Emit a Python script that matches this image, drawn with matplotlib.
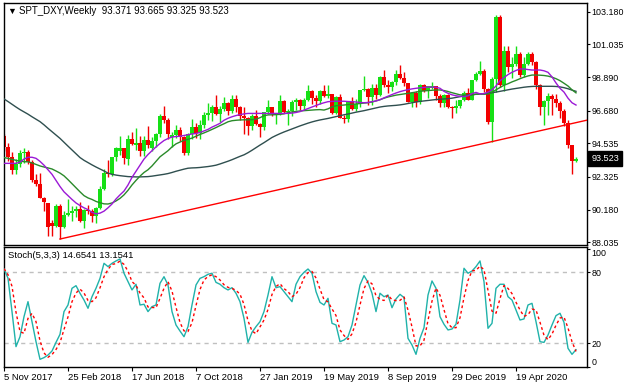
import matplotlib
matplotlib.use("Agg")
import matplotlib.pyplot as plt
import numpy as np

plt.rcParams['font.family'] = ['Liberation Sans', 'DejaVu Sans']

W, H = 625, 386

# weekly candles, 5 Nov 2017 .. 2 Aug 2020 (bar index 0..143)
opens = [95.00, 94.30, 93.65, 92.78, 93.15, 93.90, 93.95, 93.34, 92.15, 91.89,
         90.97, 90.60, 89.30, 89.10, 90.39, 89.07, 89.86, 89.94, 90.10, 90.24,
         89.44, 90.13, 90.11, 89.79, 90.32, 91.54, 92.60, 92.53, 93.63, 94.05,
         94.20, 93.50, 94.85, 94.45, 94.55, 94.02, 94.75, 94.25, 94.66, 95.16,
         96.30, 96.10, 94.95, 95.10, 95.39, 94.92, 93.90, 95.13, 95.61, 95.22,
         95.74, 96.42, 96.53, 96.91, 96.46, 96.80, 97.21, 96.66, 97.45, 96.95,
         96.30, 96.19, 95.67, 96.36, 95.82, 95.58, 96.59, 96.90, 96.49, 96.51,
         97.31, 96.61, 96.64, 97.28, 97.39, 96.98, 97.40, 98.00, 97.49, 97.33,
         98.00, 97.62, 97.75, 96.54, 97.57, 96.23, 96.13, 97.29, 96.82, 97.15,
         98.03, 98.08, 97.55, 98.16, 97.68, 98.92, 98.39, 98.25, 98.59, 99.11,
         98.80, 98.50, 97.26, 97.83, 97.24, 98.36, 98.00, 98.20, 98.30, 97.67,
         97.18, 97.68, 96.91, 96.84, 96.98, 97.35, 97.86, 97.39, 98.68, 99.11,
         99.26, 98.13, 95.95, 98.74, 102.82, 98.36, 100.58, 99.52, 99.76, 100.37,
         99.04, 99.75, 100.37, 99.86, 98.34, 96.93, 97.32, 97.62, 97.43, 97.17,
         96.64, 95.90, 94.44, 93.371]
highs = [95.15, 94.55, 93.95, 93.50, 94.10, 94.25, 94.10, 93.45, 92.50, 92.60,
         91.00, 90.60, 89.50, 90.55, 90.55, 90.10, 90.90, 90.45, 90.40, 90.70,
         90.20, 90.50, 90.20, 90.35, 91.75, 92.85, 93.42, 93.65, 94.30, 94.99,
         94.25, 95.05, 95.25, 95.55, 95.00, 95.00, 95.65, 94.95, 95.20, 96.46,
         96.98, 96.20, 95.25, 95.75, 95.60, 95.00, 95.20, 96.15, 95.85, 96.05,
         96.60, 97.20, 97.05, 97.70, 97.00, 97.55, 97.25, 97.70, 97.72, 97.00,
         96.95, 96.25, 96.45, 96.70, 95.85, 96.60, 97.35, 96.95, 96.55, 97.70,
         97.40, 96.80, 97.40, 97.50, 97.45, 97.50, 98.35, 98.05, 97.70, 98.05,
         98.35, 98.35, 97.80, 97.65, 97.75, 96.40, 97.30, 97.60, 97.45, 98.05,
         98.95, 98.15, 98.45, 98.45, 98.95, 99.35, 98.70, 98.65, 99.35, 99.67,
         99.20, 98.50, 97.85, 98.00, 98.40, 98.45, 98.30, 98.55, 98.30, 97.75,
         97.75, 97.75, 97.00, 97.35, 97.40, 97.95, 98.20, 98.70, 99.20, 99.95,
         99.40, 98.20, 98.90, 102.99, 102.95, 100.93, 100.95, 100.20, 100.93, 100.55,
         100.20, 100.55, 100.56, 99.96, 98.40, 97.40, 97.85, 97.75, 97.80, 97.30,
         96.80, 96.10, 94.45, 93.665]
lows = [94.05, 93.40, 92.50, 92.50, 92.95, 93.25, 93.20, 92.00, 91.75, 90.95,
        90.10, 88.44, 88.45, 89.05, 88.25, 88.95, 89.75, 89.45, 89.70, 89.40,
        88.95, 89.90, 89.40, 89.30, 90.25, 91.45, 92.35, 92.40, 93.40, 93.80,
        93.20, 93.10, 94.40, 94.10, 93.70, 93.70, 94.20, 94.05, 94.30, 94.95,
        95.90, 94.80, 94.30, 94.90, 94.70, 93.80, 93.80, 94.80, 94.90, 94.80,
        95.55, 96.10, 96.00, 96.40, 95.95, 96.65, 96.40, 96.55, 96.60, 96.05,
        95.15, 95.05, 95.40, 95.75, 94.95, 95.40, 96.45, 96.30, 95.80, 96.40,
        96.50, 95.75, 96.35, 96.75, 96.75, 96.75, 97.30, 97.10, 96.95, 97.10,
        97.60, 97.50, 96.45, 96.45, 96.20, 95.85, 95.95, 96.70, 96.65, 96.95,
        97.95, 97.05, 97.05, 97.45, 97.65, 98.25, 97.85, 97.95, 98.35, 98.75,
        98.30, 97.25, 96.95, 96.95, 97.15, 97.90, 97.50, 98.10, 97.40, 96.90,
        96.95, 96.85, 96.20, 96.50, 96.85, 97.30, 97.35, 97.35, 98.60, 99.05,
        97.90, 95.80, 94.65, 97.90, 98.25, 98.00, 99.25, 98.85, 99.60, 98.90,
        98.90, 99.70, 99.65, 98.08, 96.40, 95.71, 96.40, 96.40, 96.95, 96.23,
        95.70, 94.20, 92.52, 93.325]
closes = [94.30, 93.65, 92.78, 93.15, 93.90, 93.95, 93.34, 92.15, 91.89, 90.97,
          90.65, 89.05, 89.10, 90.39, 89.07, 89.86, 89.94, 90.10, 90.24, 89.44,
          90.13, 90.11, 89.79, 90.32, 91.54, 92.56, 92.53, 93.63, 94.25, 94.20,
          93.56, 94.79, 94.52, 94.55, 94.02, 94.75, 94.40, 94.66, 95.16, 96.30,
          96.10, 95.15, 95.10, 95.39, 94.92, 93.90, 95.13, 95.61, 95.22, 95.74,
          96.42, 96.53, 96.91, 96.46, 96.80, 97.21, 96.66, 97.45, 96.95, 96.30,
          96.19, 95.67, 96.36, 95.82, 95.58, 96.59, 96.90, 96.49, 96.51, 97.31,
          96.61, 96.64, 97.28, 97.39, 96.98, 97.40, 98.00, 97.49, 97.33, 98.00,
          97.62, 97.75, 96.54, 97.57, 96.23, 96.13, 97.29, 96.82, 97.15, 98.03,
          98.08, 97.55, 98.16, 97.68, 98.92, 98.39, 98.25, 98.59, 99.11, 98.80,
          98.50, 97.26, 97.83, 97.24, 98.36, 98.00, 98.27, 98.30, 97.67, 97.18,
          97.68, 96.91, 96.84, 96.98, 97.35, 97.86, 97.39, 98.68, 99.11, 99.26,
          98.13, 95.95, 98.74, 102.82, 98.36, 100.58, 99.52, 99.76, 100.37, 99.04,
          99.75, 100.37, 99.86, 98.34, 96.93, 97.32, 97.62, 97.43, 97.17, 96.64,
          95.90, 94.44, 93.35, 93.523]

# moving averages as they appear on the chart
ma_slow = [97.45, 97.28, 97.10, 96.92, 96.75, 96.60, 96.45, 96.28, 96.12, 95.96,
           95.75, 95.52, 95.30, 95.08, 94.86, 94.60, 94.35, 94.10, 93.85, 93.60,
           93.42, 93.27, 93.12, 92.98, 92.85, 92.72, 92.58, 92.50, 92.45, 92.41,
           92.38, 92.35, 92.34, 92.33, 92.33, 92.34, 92.35, 92.38, 92.42, 92.46,
           92.50, 92.55, 92.62, 92.70, 92.77, 92.84, 92.90, 92.92, 92.93, 92.95,
           92.98, 93.01, 93.05, 93.10, 93.18, 93.27, 93.36, 93.46, 93.57, 93.68,
           93.78, 93.92, 94.08, 94.25, 94.42, 94.58, 94.75, 94.92, 95.05, 95.17,
           95.28, 95.38, 95.48, 95.58, 95.68, 95.77, 95.86, 95.94, 96.01, 96.07,
           96.12, 96.17, 96.23, 96.29, 96.35, 96.41, 96.46, 96.52, 96.58, 96.63,
           96.68, 96.74, 96.80, 96.86, 96.92, 96.96, 96.99, 97.01, 97.03, 97.06,
           97.10, 97.15, 97.20, 97.25, 97.29, 97.32, 97.35, 97.38, 97.41, 97.43,
           97.45, 97.47, 97.50, 97.55, 97.60, 97.66, 97.71, 97.74, 97.76, 97.78,
           97.80, 97.82, 97.86, 97.90, 97.95, 98.00, 98.05, 98.10, 98.14, 98.18,
           98.22, 98.25, 98.27, 98.28, 98.28, 98.28, 98.28, 98.28, 98.27, 98.24,
           98.19, 98.12, 98.03, 97.95]
ma_mid = [93.60, 93.55, 93.48, 93.42, 93.36, 93.33, 93.32, 93.25, 93.15, 93.05,
          92.98, 92.92, 92.85, 92.72, 92.58, 92.40, 92.15, 91.88, 91.60, 91.35,
          91.10, 90.95, 90.85, 90.72, 90.63, 90.56, 90.55, 90.62, 90.75, 90.92,
          91.15, 91.45, 91.80, 92.10, 92.38, 92.62, 92.80, 93.05, 93.35, 93.65,
          93.85, 94.05, 94.30, 94.50, 94.62, 94.73, 94.80, 94.88, 95.00, 95.12,
          95.22, 95.33, 95.45, 95.57, 95.70, 95.82, 95.95, 96.02, 96.05, 96.07,
          96.08, 96.08, 96.09, 96.12, 96.22, 96.35, 96.40, 96.41, 96.42, 96.44,
          96.47, 96.55, 96.60, 96.63, 96.66, 96.68, 96.70, 96.72, 96.74, 96.75,
          96.72, 96.80, 96.93, 97.00, 97.03, 97.05, 97.08, 97.10, 97.12, 97.15,
          97.18, 97.20, 97.25, 97.32, 97.40, 97.50, 97.58, 97.64, 97.70, 97.74,
          97.78, 97.82, 97.86, 97.90, 97.95, 97.98, 98.00, 98.02, 98.04, 98.04,
          98.00, 97.94, 97.86, 97.79, 97.72, 97.70, 97.68, 97.70, 97.76, 97.77,
          97.76, 97.78, 97.88, 98.05, 98.20, 98.35, 98.45, 98.57, 98.67, 98.78,
          98.88, 98.96, 99.02, 99.02, 99.01, 98.99, 98.95, 98.88, 98.78, 98.65,
          98.48, 98.30, 98.05, 97.85]
ma_fast = [93.22, 93.22, 93.22, 93.22, 93.30, 93.50, 93.62, 93.62, 93.55, 93.35,
           93.10, 92.80, 92.50, 92.10, 91.70, 91.35, 91.10, 90.85, 90.62, 90.45,
           90.30, 90.18, 90.00, 89.90, 89.95, 90.08, 90.30, 90.55, 90.88, 91.15,
           91.40, 91.80, 92.30, 92.70, 93.10, 93.50, 93.80, 94.05, 94.30, 94.52,
           94.72, 94.85, 94.95, 94.98, 95.00, 95.05, 95.10, 95.15, 95.18, 95.25,
           95.35, 95.45, 95.60, 95.72, 95.85, 96.05, 96.18, 96.28, 96.36, 96.42,
           96.47, 96.50, 96.50, 96.50, 96.50, 96.50, 96.50, 96.50, 96.50, 96.50,
           96.50, 96.50, 96.52, 96.56, 96.62, 96.72, 96.82, 96.92, 97.02, 97.12,
           97.20, 97.27, 97.29, 97.30, 97.30, 97.30, 97.28, 97.27, 97.25, 97.22,
           97.20, 97.22, 97.27, 97.32, 97.40, 97.52, 97.63, 97.74, 97.84, 97.93,
           98.00, 98.06, 98.11, 98.15, 98.18, 98.21, 98.23, 98.23, 98.22, 98.15,
           97.95, 97.82, 97.72, 97.66, 97.62, 97.60, 97.65, 97.80, 97.88, 97.78,
           97.80, 97.90, 98.05, 98.30, 98.65, 98.85, 99.05, 99.20, 99.32, 99.42,
           99.42, 99.38, 99.35, 99.35, 99.35, 99.30, 99.20, 98.90, 98.50, 98.15,
           97.90, 97.50, 97.20, 97.05]

# Stoch(5,3,3): main (%K) and signal (%D)
stoch_k = [82.8, 75.0, 46.8, 17.2, 25.6, 42.5, 55.2, 38.3, 21.4, 6.5,
           7.9, 10.1, 13.5, 20.8, 27.6, 46.8, 52.4, 66.5, 68.7, 62.3,
           56.6, 49.6, 59.4, 66.5, 74.9, 87.6, 84.8, 87.6, 89.6, 91.3,
           79.2, 72.1, 65.1, 69.9, 52.4, 53.0, 46.8, 51.0, 52.4, 70.7,
           76.3, 69.3, 46.8, 35.5, 30.4, 25.6, 34.1, 52.4, 69.3, 74.9,
           76.3, 78.3, 79.2, 71.5, 69.9, 67.0, 65.1, 67.0, 62.3, 55.2,
           41.1, 20.8, 29.3, 34.1, 38.3, 46.8, 60.8, 76.3, 67.0, 67.9,
           63.7, 59.4, 55.2, 69.9, 76.3, 80.0, 82.8, 79.2, 63.7, 54.6,
           52.4, 58.0, 36.9, 35.5, 21.4, 22.8, 25.6, 35.5, 52.4, 69.3,
           77.2, 71.5, 62.3, 46.8, 62.3, 59.4, 60.8, 50.1, 57.5, 61.4,
           58.6, 24.2, 18.6, 10.7, 24.2, 33.2, 60.8, 72.7, 66.5, 42.5,
           36.1, 31.3, 32.1, 36.1, 56.6, 83.4, 79.2, 81.1, 84.8, 89.6,
           72.1, 32.7, 36.9, 66.5, 69.9, 69.9, 59.4, 56.6, 48.2, 39.7,
           40.6, 52.4, 53.8, 38.3, 21.4, 20.8, 27.0, 35.5, 43.4, 45.4,
           37.7, 15.8, 10.7, 14.65]
stoch_d = [83.0, 78.0, 68.2, 46.3, 29.9, 28.4, 41.1, 45.3, 38.3, 22.1,
           11.9, 8.2, 10.5, 14.8, 20.6, 31.7, 42.3, 55.2, 62.5, 65.8,
           62.5, 56.2, 55.2, 58.5, 66.9, 76.3, 82.4, 86.7, 87.3, 89.5,
           86.7, 80.9, 72.1, 69.0, 62.5, 58.4, 50.7, 50.3, 50.1, 58.0,
           66.5, 72.1, 64.1, 50.5, 37.6, 30.5, 30.0, 37.4, 51.9, 65.5,
           73.5, 76.5, 77.9, 76.3, 73.5, 69.5, 67.3, 66.4, 64.8, 61.5,
           52.9, 39.0, 30.4, 28.1, 33.9, 39.7, 48.6, 61.3, 68.0, 70.4,
           66.2, 63.7, 59.4, 61.5, 67.1, 75.4, 79.7, 80.7, 75.2, 65.8,
           56.9, 55.0, 49.1, 43.5, 31.3, 26.6, 23.3, 28.0, 37.8, 52.4,
           66.3, 72.7, 70.3, 60.2, 57.1, 56.2, 60.8, 56.8, 56.1, 56.3,
           59.2, 48.1, 33.8, 17.8, 17.8, 22.7, 39.4, 55.6, 66.7, 60.6,
           48.4, 36.6, 33.2, 33.2, 41.6, 58.7, 73.1, 81.2, 81.7, 85.2,
           82.2, 64.8, 47.2, 45.4, 57.8, 68.8, 66.4, 62.0, 54.7, 48.2,
           42.8, 44.2, 48.9, 48.2, 37.8, 26.8, 23.1, 27.8, 35.3, 41.4,
           42.2, 33.0, 21.4, 13.15]

price_ticks = [103.180, 101.035, 98.890, 96.680, 94.535, 92.325, 90.180, 88.035]
stoch_ticks = [100, 80, 20, 0]
date_pos = [0, 16, 32, 48, 64, 80, 96, 112, 128]
date_labels = ['5 Nov 2017', '25 Feb 2018', '17 Jun 2018', '7 Oct 2018', '27 Jan 2019',
               '19 May 2019', '8 Sep 2019', '29 Dec 2019', '19 Apr 2020']
trend_bars = [14, 122]
trend_prices = [88.25, 94.65]

o = np.array(opens)
h = np.array(highs)
l = np.array(lows)
c = np.array(closes)
x = np.arange(len(c))

fig = plt.figure(figsize=(W / 100, H / 100), dpi=100)


def px_axes(left, top, right, bottom):
    return fig.add_axes([left / W, 1 - bottom / H, (right - left) / W, (bottom - top) / H])


ax = px_axes(3.5, 2.5, 586.5, 245)
ax2 = px_axes(3.5, 247, 586.5, 367)

x_lo, x_hi = -0.125, 145.625

# price panel
up = c >= o
cols = np.where(up, '#16e016', '#f20000')
ax.vlines(x, l, h, colors=cols, lw=1, zorder=2)
ax.bar(x, np.maximum(np.abs(c - o), 0.03), bottom=np.minimum(o, c), width=0.8,
       color=cols, lw=0, zorder=2)

ax.plot(x, ma_slow, color='#2f4f4f', lw=1, zorder=3)
ax.plot(x, ma_mid, color='#2a8a2a', lw=1, zorder=3)
ax.plot(x, ma_fast, color='#9b19d6', lw=1, zorder=3)

slope = (trend_prices[1] - trend_prices[0]) / (trend_bars[1] - trend_bars[0])
ax.plot([trend_bars[0], x_hi], [trend_prices[0], trend_prices[0] + slope * (x_hi - trend_bars[0])],
        color='#ff0000', lw=1, zorder=4)

k = (price_ticks[0] - price_ticks[-1]) / 230.6
ax.set_ylim(price_ticks[-1] - (245 - 242.3) * k, price_ticks[0] + (11.7 - 2.5) * k)
ax.set_xlim(x_lo, x_hi)
ax.set_xticks([])
ax.yaxis.tick_right()
ax.set_yticks(price_ticks)
ax.set_yticklabels(['%.3f' % v for v in price_ticks])
ax.tick_params(axis='y', direction='out', length=2.5, width=0.8, labelsize=6.4, pad=1)

last = c[-1]
ax.text(1.008, last, '%.3f' % last, transform=ax.get_yaxis_transform(), ha='left', va='center',
        color='white', fontsize=6.6, clip_on=False,
        bbox=dict(boxstyle='square,pad=0.3', facecolor='black', edgecolor='black'))

fig.text(7 / W, 1 - 11 / H, '\u25bc', fontsize=6.5, va='center', ha='left')
fig.text(19 / W, 1 - 11 / H, 'SPT_DXY,Weekly  93.371 93.665 93.325 93.523',
         fontsize=7, va='center', ha='left')

# stochastic panel
ax2.axhline(80, color='#c0c0c0', lw=1, ls=(0, (3, 3)), zorder=1)
ax2.axhline(20, color='#c0c0c0', lw=1, ls=(0, (3, 3)), zorder=1)
ax2.plot(x, stoch_k, color='#20b2aa', lw=1, zorder=3)
ax2.plot(x, stoch_d, color='#ff0000', lw=1, ls=(0, (2, 2)), zorder=3)
ax2.set_xlim(x_lo, x_hi)
ax2.set_ylim(0, 80 + (272.3 - 247) / (71 / 60))
ax2.yaxis.tick_right()
ax2.set_yticks(stoch_ticks)
ax2.set_yticklabels([str(v) for v in stoch_ticks])
ax2.tick_params(axis='y', direction='out', length=2.5, width=0.8, labelsize=6.4, pad=1)
ylabs = ax2.get_yticklabels()
ylabs[0].set_va('top')
ylabs[-1].set_va('bottom')
ax2.set_xticks(date_pos)
ax2.set_xticklabels(date_labels)
for t in ax2.get_xticklabels():
    t.set_ha('left')
ax2.tick_params(axis='x', direction='out', length=3, width=0.8, labelsize=6.8, pad=1.5)

fig.text(8 / W, 1 - 256 / H, 'Stoch(5,3,3) 14.6541 13.1541', fontsize=6.8, va='center', ha='left')

for a in (ax, ax2):
    for s in a.spines.values():
        s.set_color('black')
        s.set_linewidth(1)

fig.savefig('out.png', dpi=100, facecolor='white')
